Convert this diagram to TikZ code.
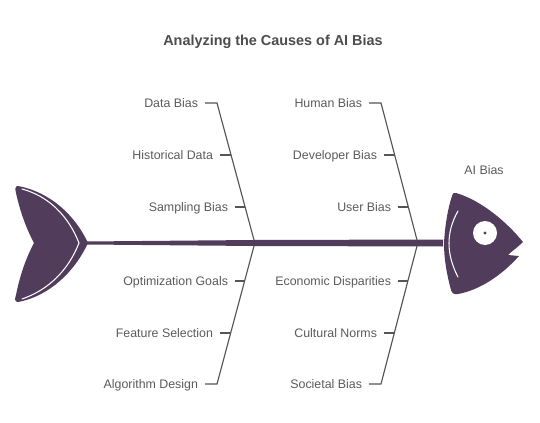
\documentclass[tikz,border=0pt]{standalone}
\usepackage{fontspec}
\setmainfont{Liberation Sans}
\usetikzlibrary{positioning}
\definecolor{fishbody}{HTML}{513C5C}
\definecolor{boneline}{HTML}{555555}
\definecolor{labeltext}{HTML}{5A5A5A}
\tikzset{
  causelabel/.style={text=labeltext,font=\fontsize{7.05pt}{9pt}\selectfont,inner sep=0pt,text height=5.4pt,text depth=.3pt,left=3.8pt of #1},
  bone/.style={draw=boneline,line width=.65pt},
  fishpart/.style={fill=fishbody,draw=none},
  whiteline/.style={draw=white,line width=.6pt,line cap=round}
}
\begin{document}
\begin{tikzpicture}[x=.02cm,y=-.02cm]
\useasboundingbox (0,0) rectangle (540,422);

\node (title) at (273,42) {\fontsize{8.2pt}{10pt}\selectfont\bfseries\color{labeltext!85!black}Analyzing the Causes of AI Bias};

% tail
\fill[fishpart] (18,186) .. controls (50,192) and (75,215) .. (88,243)
  .. controls (75,271) and (50,296) .. (18,302)
  .. controls (14,302) and (15,298) .. (16,295)
  .. controls (20,275) and (26,258) .. (34,243)
  .. controls (26,228) and (20,211) .. (16,193)
  .. controls (15,189) and (15,186) .. (18,186) -- cycle;
\draw[whiteline] (22,189) .. controls (48,196) and (68,215) .. (79,243)
  .. controls (68,271) and (48,290) .. (22,299);

% spine
\coordinate (tailend) at (86,243);
\coordinate (headend) at (443,243);
\fill[fishpart] (86,241.5) -- (254,240) -- (443,239.5) -- (443,246.5) -- (254,246) -- (86,244.5) -- cycle;

% head
\fill[fishpart] (456,193) .. controls (480,200) and (505,220) .. (523,242)
  .. controls (518,247) and (512,251) .. (508,255) -- (519,256)
  .. controls (502,275) and (480,290) .. (458,294)
  .. controls (454,295) and (452,293) .. (451,290)
  .. controls (447,275) and (444,260) .. (444,243)
  .. controls (445,225) and (448,208) .. (452,196)
  .. controls (453,193) and (454,192) .. (456,193) -- cycle;
\draw[whiteline] (458,211) .. controls (446,232) and (446,254) .. (458,277);
\fill[white] (485,233) circle (12);
\fill[fishbody] (485,233) circle (1.6);
\node[text=labeltext,font=\fontsize{7.05pt}{9pt}\selectfont,inner sep=0pt] (effect) at (484,170) {AI Bias};

% left upper bone
\coordinate (lu0) at (254,240);
\coordinate (lu1) at (217,103);
\coordinate (lu2) at (231,155);
\coordinate (lu3) at (245,207);
\coordinate (lu1t) at (205,103);
\coordinate (lu2t) at (220,155);
\coordinate (lu3t) at (235,207);
\draw[bone] (lu1t) -- (lu1) -- (lu0);
\draw[bone] (lu2t) -- (lu2);
\draw[bone] (lu3t) -- (lu3);
\node[causelabel=lu1t] (databias) {Data Bias};
\node[causelabel=lu2t] (historical) {Historical Data};
\node[causelabel=lu3t] (sampling) {Sampling Bias};

% left lower bone
\coordinate (ll0) at (254,246);
\coordinate (ll1) at (245,281);
\coordinate (ll2) at (231,333);
\coordinate (ll3) at (217,384);
\coordinate (ll1t) at (235,281);
\coordinate (ll2t) at (220,333);
\coordinate (ll3t) at (205,384);
\draw[bone] (ll3t) -- (ll3) -- (ll0);
\draw[bone] (ll1t) -- (ll1);
\draw[bone] (ll2t) -- (ll2);
\node[causelabel=ll1t] (optimization) {Optimization Goals};
\node[causelabel=ll2t] (feature) {Feature Selection};
\node[causelabel=ll3t] (algorithm) {Algorithm Design};

% right upper bone
\coordinate (ru0) at (417,240);
\coordinate (ru1) at (381,103);
\coordinate (ru2) at (395,155);
\coordinate (ru3) at (408,207);
\coordinate (ru1t) at (369,103);
\coordinate (ru2t) at (384,155);
\coordinate (ru3t) at (398,207);
\draw[bone] (ru1t) -- (ru1) -- (ru0);
\draw[bone] (ru2t) -- (ru2);
\draw[bone] (ru3t) -- (ru3);
\node[causelabel=ru1t] (human) {Human Bias};
\node[causelabel=ru2t] (developer) {Developer Bias};
\node[causelabel=ru3t] (user) {User Bias};

% right lower bone
\coordinate (rl0) at (417,246);
\coordinate (rl1) at (408,281);
\coordinate (rl2) at (395,333);
\coordinate (rl3) at (381,384);
\coordinate (rl1t) at (398,281);
\coordinate (rl2t) at (384,333);
\coordinate (rl3t) at (369,384);
\draw[bone] (rl3t) -- (rl3) -- (rl0);
\draw[bone] (rl1t) -- (rl1);
\draw[bone] (rl2t) -- (rl2);
\node[causelabel=rl1t] (economic) {Economic Disparities};
\node[causelabel=rl2t] (cultural) {Cultural Norms};
\node[causelabel=rl3t] (societal) {Societal Bias};
\end{tikzpicture}
\end{document}
